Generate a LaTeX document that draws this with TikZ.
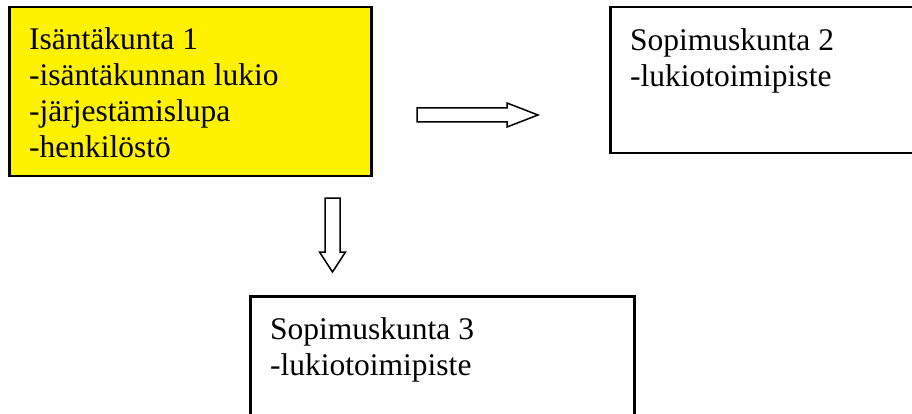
\documentclass[tikz,border=0pt]{standalone}
\usepackage{fontspec}
\setmainfont{Liberation Serif}
\usetikzlibrary{positioning}
\tikzset{
  box/.style={draw, line width=2.5pt, anchor=north west, inner sep=0pt},
  boxtext/.style={align=left, inner sep=0pt, anchor=north west,
    font=\fontsize{31.5}{36}\selectfont},
  blockarrow/.style={draw, line width=1.5pt, line join=miter}
}
\begin{document}
\begin{tikzpicture}[x=1pt, y=-1pt]
  \useasboundingbox (0,0) rectangle (912,414);
  % the three municipalities
  \node[box, fill=yellow, minimum width=362, minimum height=169] (host) at (8,6) {};
  \node[box, minimum width=320, minimum height=146] (contract2) at (609,6) {};
  \node[box, minimum width=384, minimum height=140] (contract3) at (249,295) {};
  \node[boxtext, below right=21pt and 21pt of host.north west] (hosttext)
    {Isäntäkunta 1\\-isäntäkunnan lukio\\-järjestämislupa\\-henkilöstö};
  \node[boxtext, below right=22pt and 21pt of contract2.north west] (contract2text)
    {Sopimuskunta 2\\-lukiotoimipiste};
  \node[boxtext, below right=22pt and 21pt of contract3.north west] (contract3text)
    {Sopimuskunta 3\\-lukiotoimipiste};
  % hollow block arrows
  \draw[blockarrow] (417,108) -- (507,108) -- (507,103) -- (538,115)
    -- (507,127) -- (507,122) -- (417,122) -- cycle;
  \draw[blockarrow] (325,198) -- (325,252) -- (319.5,252) -- (332.5,272)
    -- (345.5,252) -- (340,252) -- (340,198) -- cycle;
\end{tikzpicture}
\end{document}
